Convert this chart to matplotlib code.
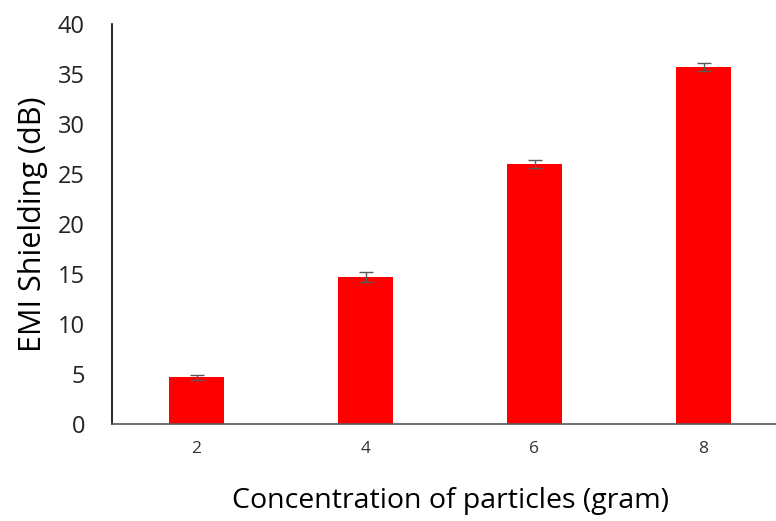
from matplotlib import pyplot as plt
import numpy as np

# concentration of particles vs EMI shielding
categories = ['2', '4', '6', '8']
shielding = [4.7, 14.7, 26.0, 35.7]
errors = [0.25, 0.5, 0.4, 0.4]

plt.rcParams['font.family'] = ['Open Sans', 'DejaVu Sans']

fig = plt.figure(figsize=(7.76, 5.21), dpi=100)
# axis runs off the right edge like the original
ax = fig.add_axes([112 / 776, 97 / 521, 676 / 776, 400 / 521])

x = np.arange(len(categories))
ax.bar(x, shielding, width=0.32, color='#ff0000',
       yerr=errors, ecolor='#595959', capsize=5,
       error_kw={'elinewidth': 1.0, 'capthick': 1.0})

ax.set_xlim(-0.5, 3.5)
ax.set_ylim(0, 40)
ax.set_yticks(np.arange(0, 41, 5))
ax.set_xticks(x)
ax.set_xticklabels(categories)

for s in ['top', 'right']:
    ax.spines[s].set_visible(False)
ax.spines['left'].set_color('black')
ax.spines['left'].set_linewidth(1.2)
ax.spines['bottom'].set_color('#595959')
ax.spines['bottom'].set_linewidth(1.2)

ax.tick_params(axis='y', length=0, pad=19.5, labelsize=17, colors='#222222')
ax.tick_params(axis='x', length=0, pad=12, labelsize=12.5, colors='#333333')

ax.set_ylabel('EMI Shielding (dB)', fontsize=22)
ax.yaxis.set_label_coords(-0.095, 0.5)
ax.set_xlabel('Concentration of particles (gram)', fontsize=20.5, labelpad=22)

fig.savefig('out.png', dpi=100)
